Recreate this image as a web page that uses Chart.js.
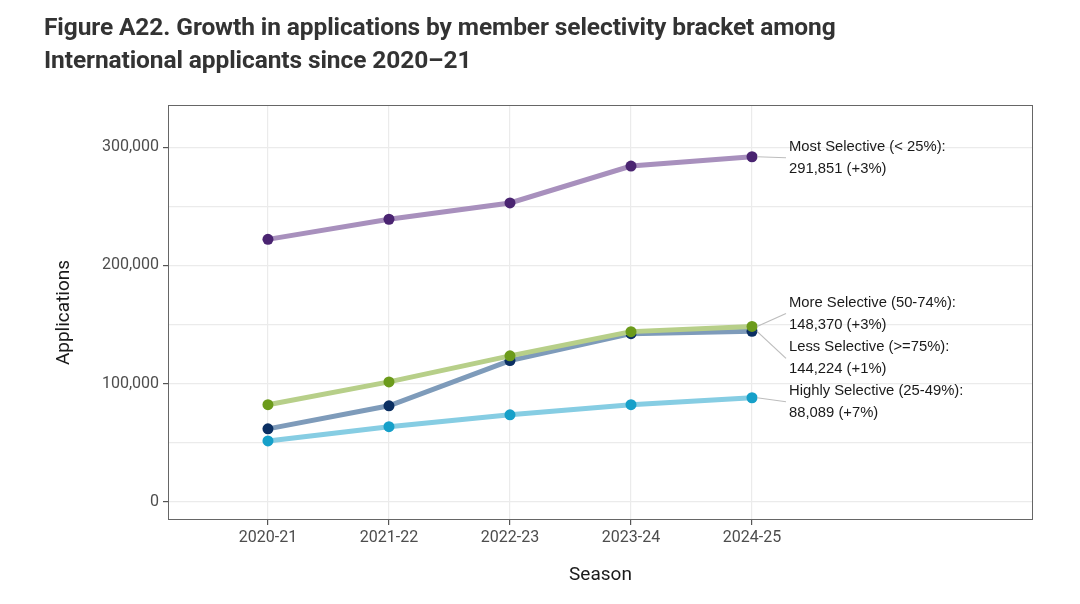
<!DOCTYPE html>
<html>
<head>
<meta charset="utf-8">
<script src="https://cdn.jsdelivr.net/npm/chart.js@4.4.1/dist/chart.umd.min.js"></script>
<style>
    html, body { margin: 0; padding: 0; background: #fff; }
    #wrap { position: relative; width: 1080px; height: 604px; }
    #title {
        position: absolute; left: 44px; top: 10px;
        font-family: Roboto, sans-serif; font-weight: 700; font-size: 24.5px;
        line-height: 33px; color: #333; letter-spacing: -0.1px;
    }
    canvas { position: absolute; left: 0; top: 0; }
</style>
</head>
<body>
<div id="wrap">
    <canvas id="chart" width="1080" height="604"></canvas>
    <div id="title">Figure A22. Growth in applications by member selectivity bracket among<br>International applicants since 2020–21</div>
</div>
<script>
// data
const seasons = ['2020-21', '2021-22', '2022-23', '2023-24', '2024-25'];
const mostSelective = [222000, 239000, 252800, 284000, 291851];
const moreSelective = [82200, 101500, 123500, 144000, 148370];
const lessSelective = [61800, 81300, 119500, 142300, 144224];
const highlySelective = [51600, 63600, 73700, 82200, 88089];
const yTicks = [0, 50000, 100000, 150000, 200000, 250000, 300000];
const endLabels = [
    ['More Selective (50-74%):', '148,370 (+3%)'],
    ['Less Selective (>=75%):', '144,224 (+1%)'],
    ['Highly Selective (25-49%):', '88,089 (+7%)'],
    ['Most Selective (< 25%):', '291,851 (+3%)']
];

const toPoints = (arr) => arr.map((v, i) => ({ x: i, y: v }));

const series = [
    { label: 'More Selective', data: moreSelective, line: '#b7cf89', point: '#6c9b1b', shift: -13 },
    { label: 'Less Selective', data: lessSelective, line: '#7e9bba', point: '#0b2f62', shift: 27 },
    { label: 'Highly Selective', data: highlySelective, line: '#86cde3', point: '#16a0c9', shift: 4 },
    { label: 'Most Selective', data: mostSelective, line: '#a890bd', point: '#4a2471', shift: 1 }
];

const endLabelPlugin = {
    id: 'endLabels',
    afterDraw(chart) {
        const ctx = chart.ctx;
        const area = chart.chartArea;
        // panel border
        ctx.save();
        ctx.strokeStyle = '#666';
        ctx.lineWidth = 1;
        ctx.strokeRect(area.left + 0.5, area.top + 0.5, area.right - area.left - 1, area.bottom - area.top - 1);

        ctx.font = '14.8px "Liberation Sans", Arial, sans-serif';
        ctx.fillStyle = '#1a1a1a';
        ctx.textBaseline = 'middle';
        chart.data.datasets.forEach((ds, i) => {
            const meta = chart.getDatasetMeta(i);
            const last = meta.data[meta.data.length - 1];
            const cy = last.y + series[i].shift;
            const tx = last.x + 37;
            ctx.strokeStyle = '#bdbdbd';
            ctx.lineWidth = 1.2;
            ctx.beginPath();
            ctx.moveTo(last.x + 5, last.y);
            ctx.lineTo(tx - 3, cy);
            ctx.stroke();
            ctx.fillText(endLabels[i][0], tx, cy - 11);
            ctx.fillText(endLabels[i][1], tx, cy + 11);
        });
        ctx.restore();
    }
};

new Chart(document.getElementById('chart'), {
    type: 'line',
    data: {
        datasets: series.map(s => ({
            label: s.label,
            data: toPoints(s.data),
            borderColor: s.line,
            backgroundColor: s.point,
            pointBackgroundColor: s.point,
            pointBorderColor: s.point,
            borderWidth: 5,
            pointRadius: 5.5,
            pointBorderWidth: 0,
            tension: 0
        }))
    },
    options: {
        responsive: false,
        animation: false,
        layout: { padding: { top: 105, right: 47, left: 0, bottom: 0 } },
        plugins: { legend: { display: false }, tooltip: { enabled: false } },
        scales: {
            x: {
                type: 'linear',
                min: -0.826,
                max: 6.322,
                afterBuildTicks: (scale) => { scale.ticks = seasons.map((s, i) => ({ value: i })); },
                afterFit: (scale) => { scale.height = 84; },
                ticks: {
                    callback: (v) => seasons[v],
                    color: '#4d4d4d',
                    font: { family: 'Roboto', size: 16 },
                    padding: 3,
                    maxRotation: 0
                },
                grid: { color: '#ebebeb', lineWidth: 1.2, tickColor: '#555', tickLength: 5 },
                border: { display: false },
                title: {
                    display: true,
                    text: 'Season',
                    color: '#1a1a1a',
                    font: { family: 'Roboto', size: 19 },
                    padding: { top: 0, bottom: 17.6 }
                }
            },
            y: {
                min: -15254,
                max: 335593,
                afterBuildTicks: (scale) => { scale.ticks = yTicks.map(v => ({ value: v })); },
                afterFit: (scale) => { scale.width = 168; },
                ticks: {
                    callback: (v) => (v % 100000 === 0 ? v.toLocaleString('en-US') : ''),
                    color: '#4d4d4d',
                    font: { family: 'Roboto', size: 16 },
                    padding: 4
                },
                grid: {
                    color: '#ebebeb',
                    lineWidth: 1.2,
                    tickColor: (c) => (c.tick && c.tick.value % 100000 === 0 ? '#555' : 'rgba(0,0,0,0)'),
                    tickLength: 5
                },
                border: { display: false },
                title: {
                    display: true,
                    text: 'Applications',
                    color: '#1a1a1a',
                    font: { family: 'Roboto', size: 19 },
                    padding: { top: 52.6, bottom: 0 }
                }
            }
        }
    },
    plugins: [endLabelPlugin]
});
</script>
</body>
</html>
